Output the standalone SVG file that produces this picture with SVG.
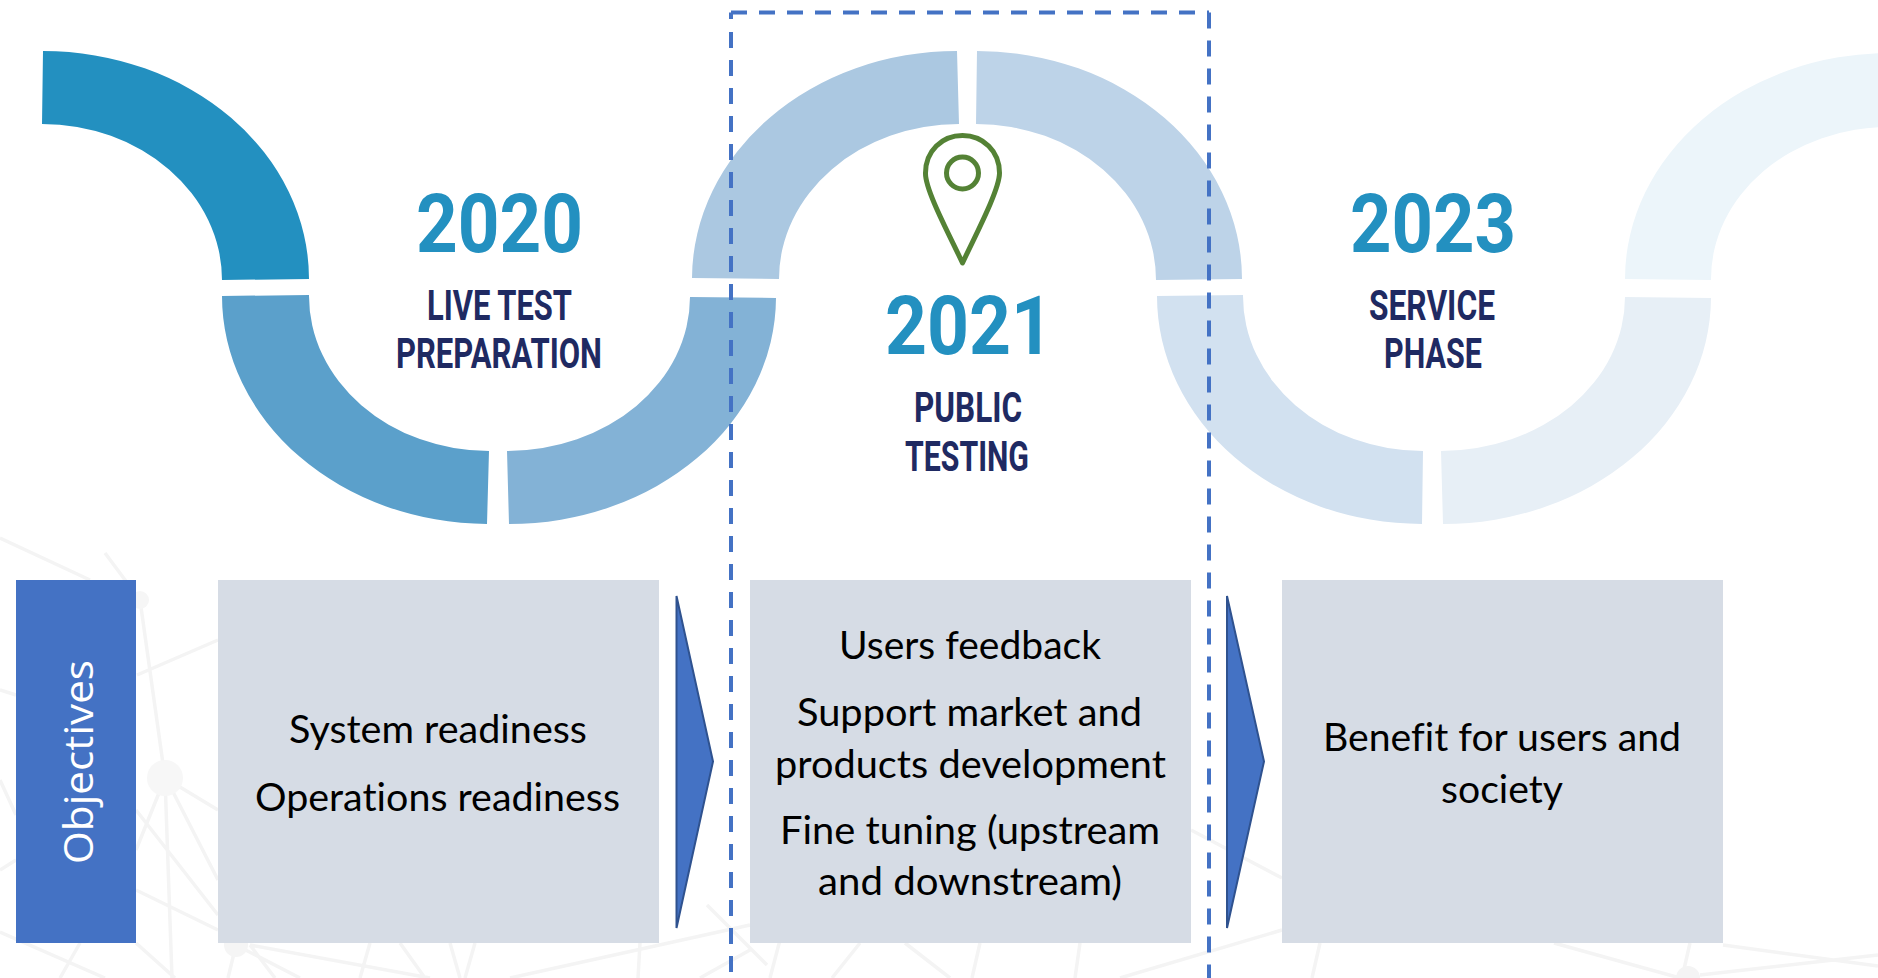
<svg xmlns="http://www.w3.org/2000/svg" width="1878" height="978" viewBox="0 0 1878 978">
<style>
.bg{stroke:#f4f4f4;stroke-width:3.5;fill:none}
.year{font-family:"Roboto","Liberation Sans",sans-serif;font-weight:700;font-size:82px;fill:#2390c0}
.lab{font-family:"Roboto","Liberation Sans",sans-serif;font-weight:700;font-size:42px;fill:#1f2a62}
.body{font-family:"Lato","Open Sans",sans-serif;font-size:39px;fill:#000;font-variant-ligatures:none}
.box{fill:#d6dce5}
.arr{fill:#4472c4;stroke:#2f528f;stroke-width:2}
</style>
<rect width="1878" height="978" fill="#fff"/>
<g id="background">
<path class="bg" d="M0 538L90 580M105 553L140 600M140 600L165 778M137 675L218 640M0 690L16 695M0 870L16 860M165 778L172 978M165 778L136 850M165 778L218 810M0 780L16 815M136 810L218 915M172 790L218 880M136 890L218 930M0 932L105 978M136 943L175 978M80 943L60 978M232 943L300 978M236 945L228 978M250 945L275 978M250 945L430 978M370 943L360 978M400 943L425 978M450 943L460 978M475 943L465 978M640 943L638 978M510 978L750 925M700 978L750 950M707 905L767 965M770 905L780 940L770 978M860 943L832 978M905 943L950 978M980 943L972 978M1080 943L1075 978M1191 830L1282 878M1120 978L1282 930M1320 943L1312 978M1554 943L1680 978M1690 943L1682 978M1700 975L1878 955M1723 945L1878 966"/>
<circle cx="140" cy="600" r="9" fill="#f6f6f6"/>
<circle cx="165" cy="778" r="18" fill="#f7f7f7"/>
<circle cx="236" cy="945" r="12" fill="#f5f5f5"/>
<circle cx="1688" cy="978" r="12" fill="#f4f4f4"/>
</g>
<g id="timeline">
<path id="arc1" fill="#2390c0" d="M43 51A266 228 0 0 1 309 279L222 280A180 156 0 0 0 42 124Z"/>
<path id="arc2" fill="#5ba0cb" d="M222 296A267 228 0 0 0 487 524L489 451A180 155 0 0 1 309 295Z"/>
<path id="arc3" fill="#83b2d6" d="M509 524A267 227 0 0 0 776 298L690 297A183 154 0 0 1 507 451Z"/>
<path id="arc4" fill="#abc8e1" d="M692 278A265 228 0 0 1 957 51L959 124A180 155 0 0 0 779 279Z"/>
<path id="arc5" fill="#bdd3e8" d="M977 51A265 228 0 0 1 1242 279L1156 280A180 156 0 0 0 976 124Z"/>
<path id="arc6" fill="#d2e1f0" d="M1157 296A265 228 0 0 0 1422 524L1423 451A180 155 0 0 1 1243 295Z"/>
<path id="arc7" fill="#e7eff6" d="M1443 524A268 227 0 0 0 1711 298L1625 297A184 154 0 0 1 1441 451Z"/>
<path id="arc8" fill="#ecf5fa" d="M1625 279A265 226 0 0 1 1890 53L1890 127A178 152 0 0 0 1711 280Z"/>
</g>
<g id="stage-2020">
<text class="year" x="416" y="252" textLength="167" lengthAdjust="spacingAndGlyphs">2020</text>
<text class="lab" x="427" y="320" textLength="145" lengthAdjust="spacingAndGlyphs">LIVE TEST</text>
<text class="lab" x="396" y="368" textLength="206" lengthAdjust="spacingAndGlyphs">PREPARATION</text>
</g>
<g id="stage-2021">
<text class="year" x="885" y="354" textLength="168" lengthAdjust="spacingAndGlyphs">2021</text>
<text class="lab" x="914" y="422" textLength="108" lengthAdjust="spacingAndGlyphs">PUBLIC</text>
<text class="lab" x="905" y="471" textLength="124" lengthAdjust="spacingAndGlyphs">TESTING</text>
</g>
<g id="stage-2023">
<text class="year" x="1350" y="252" textLength="166" lengthAdjust="spacingAndGlyphs">2023</text>
<text class="lab" x="1369" y="320" textLength="126" lengthAdjust="spacingAndGlyphs">SERVICE</text>
<text class="lab" x="1384" y="368" textLength="98" lengthAdjust="spacingAndGlyphs">PHASE</text>
</g>
<g id="pin" fill="none" stroke="#548235" stroke-width="5" stroke-linejoin="round">
<path d="M962.5 263C950 236 925 190 925.5 173C925.5 151 942 135.5 962.5 135.5C983 135.5 999.5 151 999.5 173C999.5 190 975 236 962.5 263Z"/>
<circle cx="962.5" cy="173" r="16"/>
</g>
<g id="objectives">
<rect x="16" y="580" width="120" height="363" fill="#4472c4"/>
<text transform="translate(93 864) rotate(-90)" font-family="Open Sans, Liberation Sans, sans-serif" font-size="41" fill="#fff" textLength="204" lengthAdjust="spacingAndGlyphs">Objectives</text>
</g>
<g id="box-2020">
<rect class="box" x="218" y="580" width="441" height="363"/>
<text class="body" x="289" y="743" textLength="298" lengthAdjust="spacingAndGlyphs">System readiness</text>
<text class="body" x="255" y="811" textLength="365" lengthAdjust="spacingAndGlyphs">Operations readiness</text>
</g>
<g id="box-2021">
<rect class="box" x="750" y="580" width="441" height="363"/>
<text class="body" x="839" y="659" textLength="262" lengthAdjust="spacingAndGlyphs">Users feedback</text>
<text class="body" x="797" y="726" textLength="345" lengthAdjust="spacingAndGlyphs">Support market and</text>
<text class="body" x="775" y="778" textLength="391" lengthAdjust="spacingAndGlyphs">products development</text>
<text class="body" x="780" y="844" textLength="380" lengthAdjust="spacingAndGlyphs">Fine tuning (upstream</text>
<text class="body" x="818" y="895" textLength="304" lengthAdjust="spacingAndGlyphs">and downstream)</text>
</g>
<g id="box-2023">
<rect class="box" x="1282" y="580" width="441" height="363"/>
<text class="body" x="1323" y="751" textLength="358" lengthAdjust="spacingAndGlyphs">Benefit for users and</text>
<text class="body" x="1441" y="803" textLength="122" lengthAdjust="spacingAndGlyphs">society</text>
</g>
<g id="connectors">
<polygon class="arr" points="676.5,596 713,761.5 676.5,928"/>
<polygon class="arr" points="1227,596 1264,761.5 1227,928"/>
</g>
<g id="highlight">
<path d="M731 12.5V19M731 32V978M731 12.5H1209M1209 12.5V978" fill="none" stroke="#4472c4" stroke-width="4" stroke-dasharray="16 12"/>
</g>
</svg>
